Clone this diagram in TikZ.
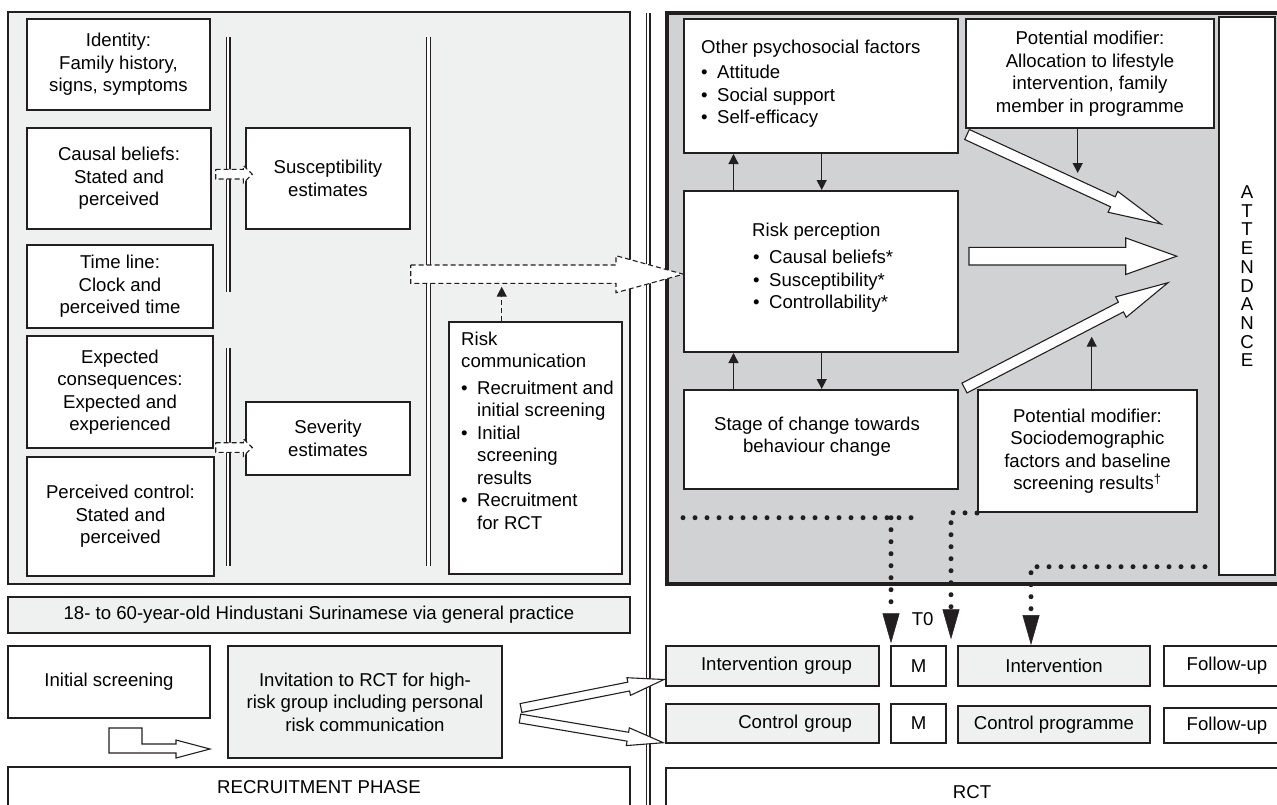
\documentclass[tikz,border=0pt]{standalone}
\usepackage{fontspec}
\setmainfont{Liberation Sans}
\usetikzlibrary{arrows.meta,calc,positioning}
\definecolor{inkline}{RGB}{35,31,32}
\definecolor{paleback}{RGB}{239,240,240}
\definecolor{darkback}{RGB}{209,210,212}
\newcommand{\itm}{\makebox[16pt][l]{\textbullet}}

\begin{document}
\begin{tikzpicture}[x=1pt, y=-1pt,
    txt/.style={font=\fontsize{18.6}{22.5}\selectfont, inner sep=0pt},
    lbox/.style={txt, draw=inkline, line width=1.2pt, fill=white, align=center},
    rbox/.style={lbox, line width=2pt},
    pale/.style={fill=paleback},
    twin/.style={draw=inkline, line width=1.3pt, double=white, double distance=2.4pt},
    smallarr/.style={draw=inkline, line width=1.3pt, -{Triangle[length=10pt,width=10pt]}},
    hollow/.style={draw=inkline, line width=1.1pt, fill=white, line join=miter},
    dashy/.style={dash pattern=on 5pt off 3pt},
    dotty/.style={draw=inkline, line width=5pt, line cap=round, dash pattern=on 0pt off 12pt},
    dotarrow/.style={dotty, -{Triangle[length=30pt,width=17pt,line width=0.5pt]}},
    fatarrow/.style n args={3}{to path={
        let \p1=(\tikztostart), \p2=(\tikztotarget), \p3=($(\p2)!#3!(\p1)$) in
        ($(\p1)!#1!90:(\p2)$) -- ($(\p3)!#1!-90:(\p1)$) -- ($(\p3)!#2!-90:(\p1)$) -- (\p2)
        -- ($(\p3)!#2!90:(\p1)$) -- ($(\p3)!#1!90:(\p1)$) -- ($(\p1)!#1!-90:(\p2)$) -- cycle}}
  ]
  \useasboundingbox (0,0) rectangle (1277,804);

  % recruitment phase (left)
  \node[lbox, pale, minimum width=622pt, minimum height=572pt] (lpanel) at (319,298) {};
  \draw[twin] (228,37) -- (228,292);
  \draw[twin] (228,348) -- (228,566);
  \draw[twin] (428.5,37) -- (428.5,566);

  \node[lbox, minimum width=183pt, minimum height=91pt] (ident) at (118.5,64.5) {Identity:\\Family history,\\signs, symptoms};
  \node[lbox, minimum width=184pt, minimum height=101pt] (causal) at (119,178.5) {Causal beliefs:\\Stated and\\perceived};
  \node[lbox, minimum width=186pt, minimum height=83pt] (timel) at (120,286.5) {Time line:\\Clock and\\perceived time};
  \node[lbox, minimum width=186pt, minimum height=112pt] (expect) at (120,392) {Expected\\consequences:\\Expected and\\experienced};
  \node[lbox, minimum width=187pt, minimum height=119pt] (pcontrol) at (120.5,516.5) {Perceived control:\\Stated and\\perceived};
  \node[lbox, minimum width=164pt, minimum height=101pt] (suscept) at (328,178.5) {Susceptibility\\estimates};
  \node[lbox, minimum width=164pt, minimum height=73pt] (sever) at (328,438.5) {Severity\\estimates};
  \node[lbox, minimum width=173pt, minimum height=252pt] (riskcom) at (535.5,448) {};
  \node[txt, align=left, anchor=north west] (riskcomtxt) at (461,331.5)
    {Risk\\communication\\[4pt]
     \itm Recruitment and\\\hspace*{16pt}initial screening\\
     \itm Initial\\\hspace*{16pt}screening\\\hspace*{16pt}results\\
     \itm Recruitment\\\hspace*{16pt}for RCT};

  \node[lbox, pale, minimum width=622pt, minimum height=36pt] (popbar) at (319,615) {18- to 60-year-old Hindustani Surinamese via general practice};
  \node[lbox, minimum width=202pt, minimum height=72pt] (initscr) at (109,682) {Initial screening};
  \node[lbox, pale, minimum width=274pt, minimum height=112pt] (invite) at (365,702) {Invitation to RCT for high-\\risk group including personal\\risk communication};
  \node[lbox, minimum width=622pt, minimum height=40pt] (recphase) at (319,787) {RECRUITMENT PHASE};

  % RCT (right)
  \node[lbox, fill=darkback, line width=3.5pt, minimum width=623pt, minimum height=571pt] (rpanel) at (978.5,298.5) {};
  \node[rbox, minimum width=274pt, minimum height=134pt] (other) at (821,86) {};
  \node[txt, align=left, anchor=north west] (othertxt) at (701,39.7)
    {Other psychosocial factors\\[3pt]\itm Attitude\\\itm Social support\\\itm Self-efficacy};
  \node[rbox, minimum width=248pt, minimum height=109pt] (pmod1) at (1090,73.5) {Potential modifier:\\Allocation to lifestyle\\intervention, family\\member in programme};
  \node[rbox, minimum width=56pt, minimum height=558pt] (attend) at (1247,296) {};
  \node[txt, align=center, anchor=north, font=\fontsize{18.6}{18.7}\selectfont] (attendtxt) at (1247,185.5) {A\\T\\T\\E\\N\\D\\A\\N\\C\\E};
  \node[rbox, minimum width=274pt, minimum height=161pt] (riskp) at (821,271.5) {};
  \node[txt, align=left, anchor=north west] (riskptxt) at (752,222.7)
    {Risk perception\\[5pt]\hspace*{1pt}\itm Causal beliefs*\\\hspace*{1pt}\itm Susceptibility*\\\hspace*{1pt}\itm Controllability*};
  \node[rbox, minimum width=274pt, minimum height=99pt] (stage) at (821,439.5) {};
  \node[txt, align=center, anchor=north] (stagetxt) at (817,416.5) {Stage of change towards\\behaviour change};
  \node[rbox, minimum width=219pt, minimum height=122pt] (pmod2) at (1087.5,451) {Potential modifier:\\Sociodemographic\\factors and baseline\\screening results\textsuperscript{\dag}};

  \node[lbox, pale, minimum width=213pt, minimum height=40pt, text width=159pt, align=right] (igroup) at (772.5,666) {Intervention group};
  \node[lbox, minimum width=55pt, minimum height=40pt] (mone) at (918.5,666) {M};
  \node[lbox, pale, minimum width=192pt, minimum height=40pt] (interv) at (1054,666) {Intervention};
  \node[lbox, minimum width=126pt, minimum height=40pt] (fup1) at (1227,666) {Follow-up};
  \node[lbox, pale, minimum width=213pt, minimum height=39pt, text width=159pt, align=right] (cgroup) at (772.5,723.5) {Control group};
  \node[lbox, minimum width=55pt, minimum height=39pt] (mtwo) at (918.5,723.5) {M};
  \node[lbox, pale, minimum width=192pt, minimum height=37pt] (cprog) at (1054,724.5) {Control programme};
  \node[lbox, minimum width=126pt, minimum height=35pt] (fup2) at (1227,725.5) {Follow-up};
  \node[lbox, minimum width=612pt, minimum height=48pt] (rct) at (972,792) {RCT};
  \node[txt] (tzero) at (922.7,619.3) {T0};

  \draw[twin] (648,13) -- (648,810);

  % small arrows
  \coordinate (upx) at (733.5,0);
  \coordinate (dnx) at (821.7,0);
  \draw[smallarr] (riskp.north -| upx) -- (other.south -| upx);
  \draw[smallarr] (other.south -| dnx) -- (riskp.north -| dnx);
  \draw[smallarr] (stage.north -| upx) -- (riskp.south -| upx);
  \draw[smallarr] (riskp.south -| dnx) -- (stage.north -| dnx);
  \coordinate (pm1tip) at (1077.7,173);
  \draw[smallarr] (pmod1.south -| pm1tip) -- (pm1tip);
  \coordinate (pm2tip) at (1091.7,336.7);
  \draw[smallarr] (pmod2.north -| pm2tip) -- (pm2tip);
  \coordinate (rctip) at (501.7,286.7);
  \draw[smallarr, dashy] (riskcom.north -| rctip) -- (rctip);

  % hollow arrows
  \coordinate (sa1) at (215.7,174.2);
  \coordinate (sb1) at (252.3,174.2);
  \draw[hollow, dashy] (sa1) to[fatarrow={4.8pt}{8.7pt}{9pt}] (sb1);
  \coordinate (sa2) at (215.7,447.5);
  \coordinate (sb2) at (252.3,447.5);
  \draw[hollow, dashy] (sa2) to[fatarrow={4.8pt}{8.7pt}{9pt}] (sb2);
  \coordinate (da) at (410.7,274.2);
  \coordinate (db) at (683.3,274.2);
  \draw[hollow, dashy] (da) to[fatarrow={9.2pt}{18.5pt}{67.3pt}] (db);
  \coordinate (fa1) at (967,134.5);
  \coordinate (fb1) at (1161,224);
  \draw[hollow] (fa1) to[fatarrow={5.5pt}{11.5pt}{53pt}] (fb1);
  \coordinate (fa2) at (969,256.2);
  \coordinate (fb2) at (1176.7,256.2);
  \draw[hollow] (fa2) to[fatarrow={8.8pt}{18.3pt}{51pt}] (fb2);
  \coordinate (fa3) at (964.5,388);
  \coordinate (fb3) at (1168,282.7);
  \draw[hollow] (fa3) to[fatarrow={5.5pt}{11.5pt}{53pt}] (fb3);
  \coordinate (ia1) at (521,708);
  \coordinate (ib1) at (664,679.5);
  \draw[hollow] (ia1) to[fatarrow={4.5pt}{9pt}{36pt}] (ib1);
  \coordinate (ia2) at (520,718.5);
  \coordinate (ib2) at (663.3,742.7);
  \draw[hollow] (ia2) to[fatarrow={4.5pt}{9pt}{36pt}] (ib2);
  \draw[hollow] (109,728) -- (142,728) -- (142,744) -- (176,744) -- (176,740) -- (210,749)
    -- (176,758) -- (176,753) -- (109,753) -- cycle;

  % dotted timing arrows
  \coordinate (d1a) at (683,517.7);
  \coordinate (d1b) at (922,517.7);
  \coordinate (d1c) at (891,517.7);
  \coordinate (d1tip) at (891,643.3);
  \draw[dotty] (d1a) -- (d1b);
  \draw[dotarrow] (d1c) -- (d1tip);
  \coordinate (d2b) at (951,512.7);
  \coordinate (d2tip) at (951,639.3);
  \draw[dotarrow] (pmod2.south west) -- (d2b) -- (d2tip);
  \coordinate (d3a) at (1205,566.7);
  \coordinate (d3b) at (1031,566.7);
  \coordinate (d3tip) at (1031,645);
  \draw[dotarrow] (d3a) -- (d3b) -- (d3tip);
\end{tikzpicture}
\end{document}
